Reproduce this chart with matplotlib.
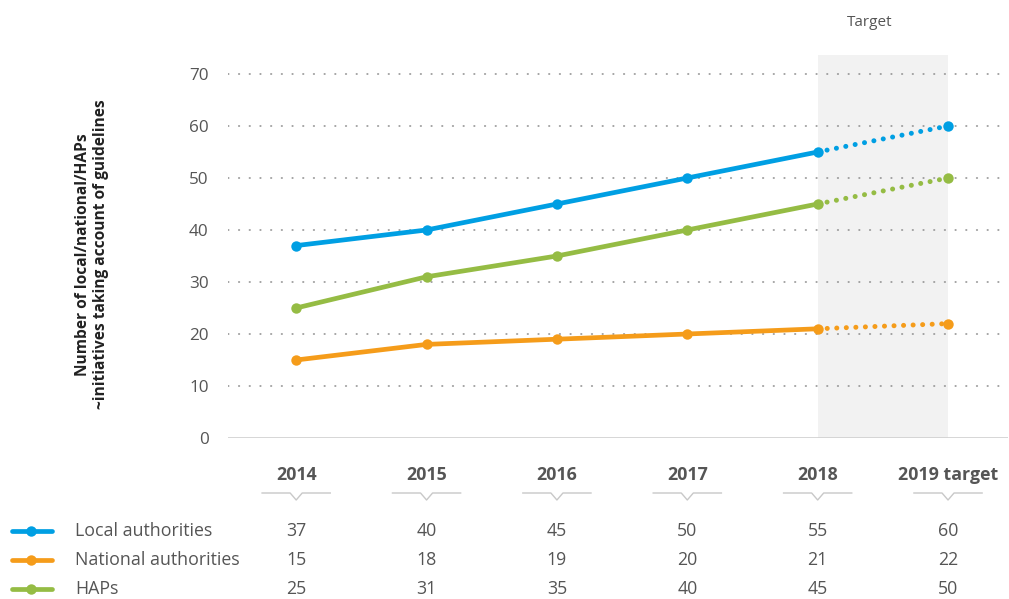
import matplotlib.pyplot as plt
from matplotlib.transforms import blended_transform_factory
from matplotlib.lines import Line2D

plt.rcParams['font.family'] = ['Open Sans', 'DejaVu Sans']

years = ['2014', '2015', '2016', '2017', '2018', '2019 target']
series_names = ['Local authorities', 'National authorities', 'HAPs']
local = [37, 40, 45, 50, 55, 60]
national = [15, 18, 19, 20, 21, 22]
haps = [25, 31, 35, 40, 45, 50]
yticks = [0, 10, 20, 30, 40, 50, 60, 70]

colors = ['#009fe3', '#f59c1a', '#95bc44']
txt = '#555555'

W, H = 1009, 599
fig = plt.figure(figsize=(W / 100, H / 100), dpi=100)
# axes box in pixel terms: left 228, right 1008, top 55, bottom 438
ax = fig.add_axes([228 / W, 1 - 438 / H, (1008 - 228) / W, (438 - 55) / H])

x = list(range(len(years)))
ax.set_xlim(-0.523, 5.46)
ax.set_ylim(0, 73.65)

# target band
ax.axvspan(4, 5, color='#f2f2f2', zorder=0, lw=0)

# grid
for v in yticks[1:]:
    ax.axhline(v, color='#8a8a8a', lw=1.1, ls=(0, (0.5, 6.5)), dash_capstyle='round', zorder=1)
ax.axhline(0, color='#d0d0d0', lw=1.2, zorder=1)

for vals, c in zip([local, national, haps], colors):
    ax.plot(x[:5], vals[:5], color=c, lw=3.4, solid_capstyle='round', zorder=3)
    ax.plot(x[4:], vals[4:], color=c, lw=3.6, ls=(0, (0.01, 1.9)),
            dash_capstyle='round', zorder=3)
    ax.plot(x, vals, 'o', color=c, ms=7.5, mec='none', zorder=4)

ax.set_yticks(yticks)
ax.set_yticklabels([str(v) for v in yticks], fontsize=12.3, color=txt)
ax.tick_params(axis='y', length=0, pad=14)
ax.set_xticks([])
for s in ax.spines.values():
    s.set_visible(False)
ax.patch.set_alpha(0)

ax.set_ylabel('Number of local/national/HAPs\n~initiatives taking account of guidelines',
              fontsize=11.2, fontweight='bold', color='#222222',
              linespacing=1.1)
ax.yaxis.set_label_coords(-0.153, 0.48)

fig.text(870 / W, 1 - 22 / H, 'Target', ha='center', va='center', fontsize=11, color=txt)

# year headers with chevron underline
tr = blended_transform_factory(ax.transData, fig.transFigure)
for xi, yr in zip(x, years):
    ax.text(xi, 1 - 475 / H, yr, transform=tr, ha='center', va='center',
            fontsize=12.8, fontweight='bold', color=txt)
    hw = 34 / 130
    cw = 6 / 130
    line = Line2D([xi - hw, xi - cw, xi, xi + cw, xi + hw],
                  [1 - 493 / H, 1 - 493 / H, 1 - 500 / H, 1 - 493 / H, 1 - 493 / H],
                  transform=tr, color='#c8c8c8', lw=1, clip_on=False)
    fig.add_artist(line)

# legend / table rows
row_y = [531, 560, 589]
for name, vals, c, ry in zip(series_names, [local, national, haps], colors, row_y):
    yy = 1 - ry / H
    fig.add_artist(Line2D([12 / W, 52 / W], [yy, yy], color=c, lw=3.4,
                          solid_capstyle='round'))
    fig.add_artist(Line2D([31 / W], [yy], marker='o', color=c, ms=7.5, mec='none'))
    fig.text(75 / W, yy, name, ha='left', va='center', fontsize=12.8, color=txt)
    for xi, v in zip(x, vals):
        ax.text(xi, yy, str(v), transform=tr, ha='center', va='center',
                fontsize=12.8, color=txt)

fig.savefig('out.png', dpi=100)
